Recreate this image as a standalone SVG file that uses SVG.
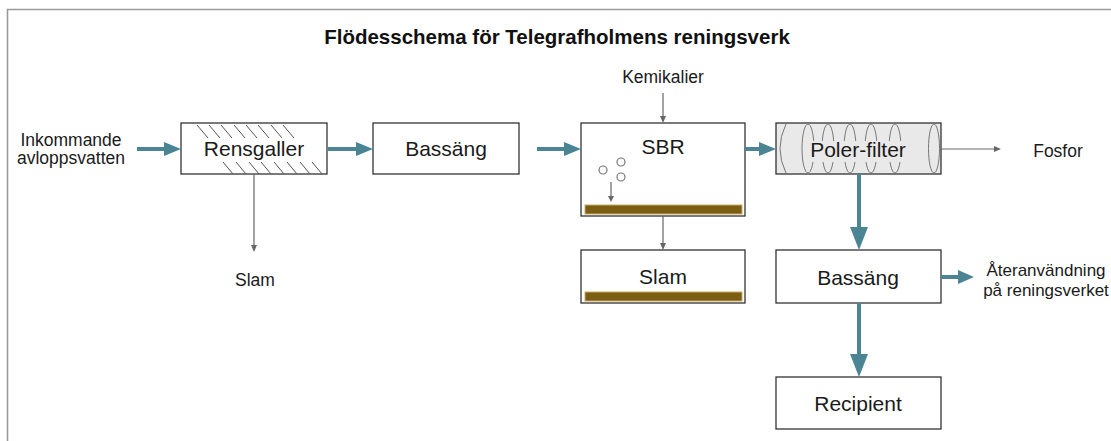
<svg xmlns="http://www.w3.org/2000/svg" width="1111" height="441" viewBox="0 0 1111 441">
<style>
  .box{fill:#ffffff;stroke:#333333;stroke-width:1.3}
  .lbl{font-family:"Liberation Sans",Arial,sans-serif;font-size:21px;fill:#1a1a1a;text-anchor:middle}
  .sm{font-family:"Liberation Sans",Arial,sans-serif;font-size:17.5px;fill:#1a1a1a;text-anchor:middle}
  .title{font-family:"Liberation Sans",Arial,sans-serif;font-size:20.5px;font-weight:bold;fill:#111;text-anchor:middle}
  .flow{stroke:#4b8594;stroke-width:4;fill:none}
  .head{fill:#4b8594}
  .thin{stroke:#666666;stroke-width:1.2;fill:none}
  .thead{fill:#666666}
  .hatch{stroke:#555;stroke-width:1;fill:none}
  .sludge{fill:#7b5d13;stroke:#c9ad62;stroke-width:1}
  .arc{stroke:#777;stroke-width:1;fill:none}
</style>
<rect x="0" y="0" width="1111" height="441" fill="#ffffff"/>
<path d="M7.5 441 V9.5 H1111" fill="none" stroke="#9a9a9a" stroke-width="1.6"/>
<text class="title" x="557" y="44">Flödesschema för Telegrafholmens reningsverk</text>

<g id="inkommande"><text class="sm" x="71" y="146">Inkommande</text><text class="sm" x="71" y="164">avloppsvatten</text></g>

<g id="rensgaller">
  <rect class="box" x="181" y="123" width="146" height="51"/>
  <path class="hatch" d="M197 125 l11 13 M209 125 l11 13 M221 125 l11 13 M234 125 l11 13 M246 125 l11 13 M258 125 l11 13 M271 125 l11 13 M283 125 l11 13 M223 162 l10 12 M236 162 l10 12 M249 162 l10 12 M261 162 l10 12 M274 162 l10 12 M287 162 l10 12 M300 162 l10 12 M312 162 l10 12"/>
  <text class="lbl" x="254" y="156">Rensgaller</text>
</g>

<g id="slam1"><text class="sm" x="255" y="286">Slam</text></g>

<g id="bassang1">
  <rect class="box" x="373" y="123" width="146" height="51"/>
  <text class="lbl" x="446" y="156">Bassäng</text>
</g>

<g id="kemikalier"><text class="sm" x="663" y="83">Kemikalier</text></g>

<g id="sbr">
  <rect class="box" x="581" y="123" width="164" height="93"/>
  <text class="lbl" x="663" y="154">SBR</text>
  <circle cx="603" cy="170" r="4" fill="none" stroke="#777" stroke-width="1.2"/>
  <circle cx="621" cy="162" r="4" fill="none" stroke="#777" stroke-width="1.2"/>
  <circle cx="621" cy="177" r="4" fill="none" stroke="#777" stroke-width="1.2"/>
  <line class="thin" x1="611" y1="182" x2="611" y2="197"/>
  <path class="thead" d="M608 196 L614 196 L611 202 Z"/>
  <rect class="sludge" x="585" y="205" width="157" height="9"/>
</g>

<g id="slam2">
  <rect class="box" x="581" y="250" width="164" height="53"/>
  <text class="lbl" x="663" y="284">Slam</text>
  <rect class="sludge" x="585" y="292" width="157" height="9"/>
</g>

<g id="polerfilter">
  <rect x="776" y="123" width="165" height="51" fill="#e9e9e9" stroke="#333" stroke-width="1.3"/>
  <path class="arc" d="M786 124 Q774 148.5 786 173"/>
  <ellipse class="arc" cx="808" cy="148.5" rx="6" ry="24.5"/>
  <ellipse class="arc" cx="828" cy="148.5" rx="6" ry="24.5"/>
  <ellipse class="arc" cx="850" cy="148.5" rx="6" ry="24.5"/>
  <ellipse class="arc" cx="871" cy="148.5" rx="6" ry="24.5"/>
  <ellipse class="arc" cx="895" cy="148.5" rx="6" ry="24.5"/>
  <ellipse class="arc" cx="934" cy="148.5" rx="5.5" ry="24.5"/>
  <rect x="809" y="141" width="100" height="21" fill="#e9e9e9"/>
  <text class="lbl" x="858" y="157">Poler-filter</text>
</g>

<g id="fosfor"><text class="sm" x="1058" y="157">Fosfor</text></g>

<g id="bassang2">
  <rect class="box" x="776" y="250" width="165" height="53"/>
  <text class="lbl" x="858" y="285">Bassäng</text>
</g>

<g id="ateranvandning"><text class="sm" x="1046" y="276" style="font-size:17px">Återanvändning</text><text class="sm" x="1046" y="296" style="font-size:17px">på reningsverket</text></g>

<g id="recipient">
  <rect class="box" x="776" y="377" width="165" height="52"/>
  <text class="lbl" x="858" y="411">Recipient</text>
</g>

<g id="connectors">
  <line class="flow" x1="137" y1="149" x2="166" y2="149"/><path class="head" d="M164 142 L181 149 L164 156 Z"/>
  <line class="flow" x1="328" y1="149" x2="358" y2="149"/><path class="head" d="M356 142 L373 149 L356 156 Z"/>
  <line class="flow" x1="537" y1="149" x2="566" y2="149"/><path class="head" d="M564 142 L581 149 L564 156 Z"/>
  <line class="flow" x1="745" y1="149" x2="761" y2="149"/><path class="head" d="M759 142 L776 149 L759 156 Z"/>
  <line class="flow" x1="941" y1="277" x2="960" y2="277"/><path class="head" d="M958 270 L974 277 L958 284 Z"/>
  <line class="flow" x1="859" y1="174" x2="859" y2="229"/><path class="head" d="M850 227 L859 250 L868 227 Z"/>
  <line class="flow" x1="859" y1="303" x2="859" y2="356"/><path class="head" d="M850 354 L859 377 L868 354 Z"/>
  <line class="thin" x1="254" y1="174" x2="254" y2="246"/><path class="thead" d="M251 245 L257 245 L254 252 Z"/>
  <line class="thin" x1="663" y1="93" x2="663" y2="117"/><path class="thead" d="M660 116 L666 116 L663 123 Z"/>
  <line class="thin" x1="663" y1="216" x2="663" y2="244"/><path class="thead" d="M660 243 L666 243 L663 250 Z"/>
  <line class="thin" x1="941" y1="149" x2="995" y2="149"/><path class="thead" d="M994 146 L1001 149 L994 152 Z"/>
</g>
</svg>
